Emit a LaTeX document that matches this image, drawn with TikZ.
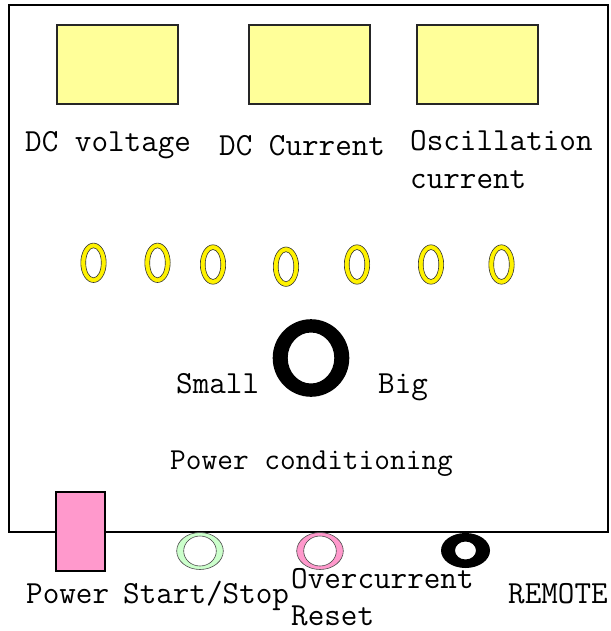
\documentclass[tikz,border=0pt]{standalone}
\usepackage{fontspec}
\begin{document}
\begin{tikzpicture}[x=1pt,y=-1pt,
  lbl/.style={font=\fontsize{32.2}{38}\selectfont\ttfamily, inner sep=0pt, anchor=base west, text=black},
  lblsmall/.style={font=\fontsize{30.5}{36}\selectfont\ttfamily, inner sep=0pt, anchor=base west, text=black},
  meter/.style={draw=black!85, line width=1.3pt, fill=meteryellow},
  yring/.style={draw=black!80, line width=0.6pt, fill=yellow, even odd rule},
  gring/.style={draw=black!70, line width=0.6pt, fill=ringgreen, even odd rule},
  pring/.style={draw=black!70, line width=0.6pt, fill=ringpink, even odd rule},
  bring/.style={fill=black, even odd rule},
  panel/.style={draw=black, line width=2pt},
  powerbox/.style={draw=black, line width=2pt, fill=ringpink}]
\definecolor{meteryellow}{HTML}{FFFF99}
\definecolor{ringgreen}{HTML}{CCFFCC}
\definecolor{ringpink}{HTML}{FF99CC}
\useasboundingbox (0,0) rectangle (610,631);
% panel
\draw[panel] (9,5) rectangle (608,531.5);
% meters
\draw[meter] (57,25) rectangle (178,104);
\draw[meter] (249,25) rectangle (370,104);
\draw[meter] (417,25) rectangle (538,104);
% labels of meters
\node[lbl] (dcv) at (25,152) {DC voltage};
\node[lbl] (dcc) at (219,156) {DC Current};
\node[lbl] (osc1) at (410,150) {Oscillation};
\node[lbl] (osc2) at (410,188) {current};
% yellow indicator rings
\path[yring] (93.5,262.8) ellipse [x radius=12.7pt, y radius=19.7pt] (93.5,262.8) ellipse [x radius=7.8pt, y radius=15pt];
\path[yring] (157.5,262.8) ellipse [x radius=12.7pt, y radius=19.7pt] (157.5,262.8) ellipse [x radius=7.8pt, y radius=15pt];
\path[yring] (213,264.5) ellipse [x radius=12.7pt, y radius=19.7pt] (213,264.5) ellipse [x radius=7.8pt, y radius=15pt];
\path[yring] (286,266.7) ellipse [x radius=12.7pt, y radius=19.7pt] (286,266.7) ellipse [x radius=7.8pt, y radius=15pt];
\path[yring] (357,264.5) ellipse [x radius=12.7pt, y radius=19.7pt] (357,264.5) ellipse [x radius=7.8pt, y radius=15pt];
\path[yring] (431,264.5) ellipse [x radius=12.7pt, y radius=19.7pt] (431,264.5) ellipse [x radius=7.8pt, y radius=15pt];
\path[yring] (501.5,264.5) ellipse [x radius=12.7pt, y radius=19.7pt] (501.5,264.5) ellipse [x radius=7.8pt, y radius=15pt];
% big knob
\path[bring] (311,358) ellipse [x radius=38.3pt, y radius=38.8pt] (311,358) ellipse [x radius=23.3pt, y radius=25.5pt];
\node[lbl] (small) at (176,393) {Small};
\node[lbl] (big) at (378,393) {Big};
\node[lblsmall] (pc) at (170,469) {Power conditioning};
% power switch
\draw[powerbox] (56,492) rectangle (105,571);
% bottom rings
\path[gring] (200,551) ellipse [x radius=23.3pt, y radius=18.5pt] (200,551) ellipse [x radius=16.3pt, y radius=15pt];
\path[pring] (320,551) ellipse [x radius=23.3pt, y radius=18.5pt] (320,551) ellipse [x radius=16.3pt, y radius=15pt];
\path[bring] (465.5,550.5) ellipse [x radius=24.5pt, y radius=17.5pt] (465.5,550.5) ellipse [x radius=10.5pt, y radius=9pt];
% bottom labels
\node[lbl] (power) at (26,603) {Power};
\node[lbl] (ss) at (123,603) {Start/Stop};
\node[lbl] (oc) at (291,588) {Overcurrent};
\node[lbl] (reset) at (291,625) {Reset};
\node[lbl] (remote) at (508,603) {REMOTE};
\end{tikzpicture}
\end{document}
